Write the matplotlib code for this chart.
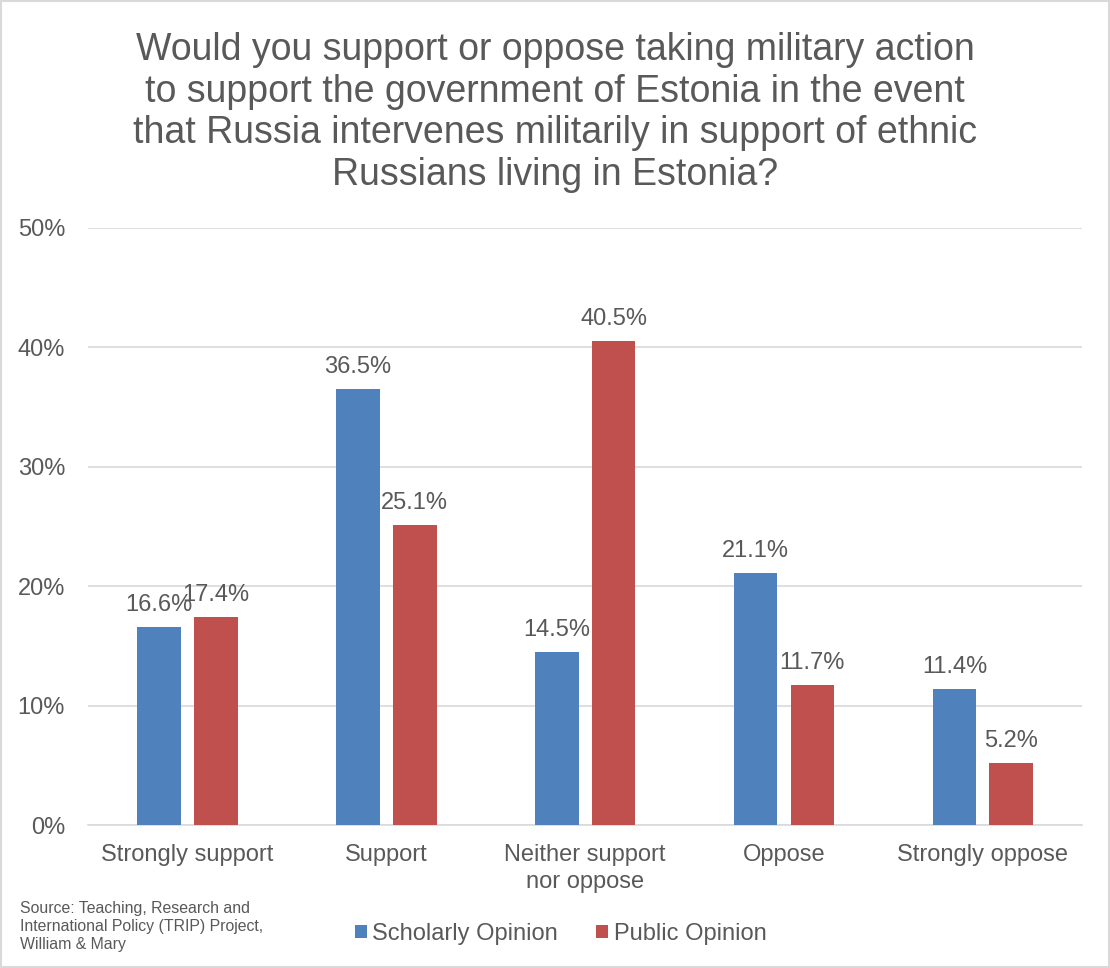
import numpy as np
import matplotlib
matplotlib.use("Agg")
import matplotlib.pyplot as plt
from matplotlib.patches import Rectangle

categories = ["Strongly support", "Support", "Neither support\nnor oppose", "Oppose", "Strongly oppose"]
scholarly = [16.6, 36.5, 14.5, 21.1, 11.4]
public = [17.4, 25.1, 40.5, 11.7, 5.2]
series_names = ["Scholarly Opinion", "Public Opinion"]
yticks = [0, 10, 20, 30, 40, 50]

blue = "#4F81BD"
red = "#C0504D"
txt = "#595959"
grid = "#D9D9D9"

plt.rcParams['font.family'] = ['Liberation Sans', 'DejaVu Sans']

fig = plt.figure(figsize=(11.1, 9.68), dpi=100)
ax = fig.add_axes([0.0793, 0.1477, 0.8957, 0.6168])

x = np.arange(len(categories))
w = 0.22
off = 0.143
b1 = ax.bar(x - off, scholarly, w, color=blue, label=series_names[0], zorder=3)
b2 = ax.bar(x + off, public, w, color=red, label=series_names[1], zorder=3)

for bars, vals in ((b1, scholarly), (b2, public)):
    for b, v in zip(bars, vals):
        ax.annotate(f"{v:.1f}%", (b.get_x() + b.get_width() / 2, v),
                    xytext=(0, 8), textcoords="offset points",
                    ha="center", va="bottom", fontsize=17, color=txt)

ax.set_xlim(-0.5, len(categories) - 0.5)
ax.set_ylim(0, 50)
ax.set_yticks(yticks)
ax.set_yticklabels([f"{t}%" for t in yticks])
ax.set_xticks(x)
ax.set_xticklabels(categories, linespacing=1.25)
ax.tick_params(axis='both', length=0, labelsize=17, colors=txt)
ax.tick_params(axis='y', pad=16.5)
ax.tick_params(axis='x', pad=14)
ax.yaxis.grid(True, color=grid, lw=1.2, zorder=0)
for s in ['top', 'right', 'left']:
    ax.spines[s].set_visible(False)
ax.spines['bottom'].set_color(grid)
ax.spines['bottom'].set_linewidth(1.2)

fig.text(0.5, 0.967, "Would you support or oppose taking military action\n"
         "to support the government of Estonia in the event\n"
         "that Russia intervenes militarily in support of ethnic\n"
         "Russians living in Estonia?",
         ha="center", va="top", fontsize=27, color=txt, linespacing=1.2)

fig.text(0.018, 0.043, "Source: Teaching, Research and\nInternational Policy (TRIP) Project,\nWilliam & Mary",
         ha="left", va="center", fontsize=11.4, color=txt, linespacing=1.25)

fig.legend(handles=[b1, b2], loc="center", bbox_to_anchor=(0.505, 0.035), ncol=2,
           frameon=False, fontsize=17, labelcolor=txt, handlelength=0.5,
           handleheight=0.5, handletextpad=0.25, columnspacing=1.6)

fig.patches.append(Rectangle((0.001, 0.001), 0.998, 0.998, transform=fig.transFigure,
                             fill=False, edgecolor=grid, lw=1.5))

plt.savefig("out.png")
plt.close()
